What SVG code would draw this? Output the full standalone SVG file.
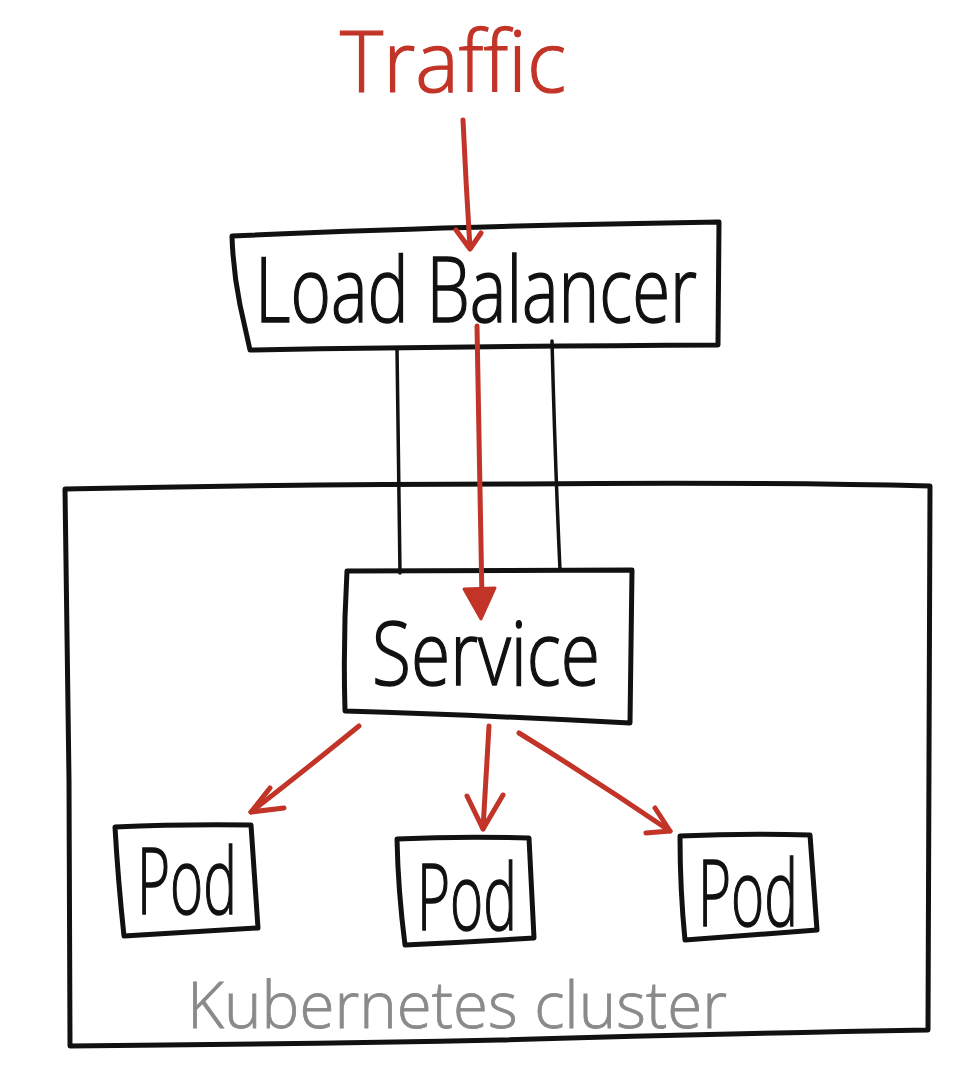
<svg xmlns="http://www.w3.org/2000/svg" width="972" height="1066" viewBox="0 0 972 1066">
  <defs>
    <style>
      .ink { fill: none; stroke: #111; stroke-width: 5; stroke-linecap: round; stroke-linejoin: round; }
      .thin { fill: none; stroke: #111; stroke-width: 3.5; stroke-linecap: round; }
      .red { fill: none; stroke: #c23427; stroke-width: 5; stroke-linecap: round; stroke-linejoin: round; }
      .redfill { fill: #c23427; stroke: #c23427; stroke-width: 3; stroke-linejoin: round; }
      .label { font-family: "Open Sans", "Liberation Sans", sans-serif; font-weight: 300; fill: #111; stroke: #111; stroke-width: 1.5; }
      .red-label { font-family: "Open Sans", "Liberation Sans", sans-serif; font-weight: 300; fill: #c23427; stroke: #c23427; stroke-width: 1.2; }
      .grey-label { font-family: "Open Sans", "Liberation Sans", sans-serif; font-weight: 300; fill: #8a8a8a; stroke: #8a8a8a; stroke-width: 0.8; }
    </style>
  </defs>
  <rect width="972" height="1066" fill="#fff"/>

  <!-- cluster outline -->
  <g id="cluster">
    <path class="ink" d="M65,489 Q300,484 520,484 Q760,482 930,486 L929,760 L928,1030 Q700,1034 500,1040 Q300,1044 70,1046 L69,780 Z"/>
    <text class="grey-label" x="187" y="1028" font-size="64" textLength="540" lengthAdjust="spacingAndGlyphs">Kubernetes cluster</text>
  </g>

  <!-- traffic label -->
  <g id="traffic">
    <text class="red-label" x="340" y="92" font-size="84" textLength="226" lengthAdjust="spacingAndGlyphs">Traffic</text>
  </g>

  <!-- load balancer -->
  <g id="load-balancer">
    <path class="ink" d="M232,236 Q450,226 719,222 L718,345 Q500,346 250,350 L240,305 Q233,270 232,236 Z"/>
    <text class="label" x="255" y="322" font-size="90" textLength="442" lengthAdjust="spacingAndGlyphs">Load Balancer</text>
  </g>

  <!-- service -->
  <g id="service">
    <path class="ink" d="M347,571 L632,570 L630,723 Q480,715 345,711 Q343,640 347,571 Z"/>
    <text class="label" x="372" y="685" font-size="88" textLength="228" lengthAdjust="spacingAndGlyphs">Service</text>
  </g>

  <!-- pods -->
  <g id="pod-1">
    <path class="ink" d="M115,827 Q180,824 251,825 L258,928 Q190,932 124,936 Q118,880 115,827 Z"/>
    <text class="label" x="137" y="914" font-size="92" textLength="100" lengthAdjust="spacingAndGlyphs">Pod</text>
  </g>
  <g id="pod-2">
    <path class="ink" d="M397,839 Q460,836 529,838 L534,938 Q470,942 405,945 Q398,890 397,839 Z"/>
    <text class="label" x="417" y="930" font-size="92" textLength="100" lengthAdjust="spacingAndGlyphs">Pod</text>
  </g>
  <g id="pod-3">
    <path class="ink" d="M680,836 Q745,833 810,835 L817,930 Q750,935 685,940 Q680,890 680,836 Z"/>
    <text class="label" x="698" y="926" font-size="92" textLength="100" lengthAdjust="spacingAndGlyphs">Pod</text>
  </g>

  <!-- connectors -->
  <g id="connectors">
    <!-- balancer to service links -->
    <path class="thin" d="M397,348 Q398,460 400,573"/>
    <path class="thin" d="M552,341 Q555,460 560,570"/>
    <!-- incoming traffic -->
    <path class="red" d="M463,120 Q466,185 470,248"/>
    <path class="red" d="M456,230 L470,249 L481,233"/>
    <!-- through the balancer to the service -->
    <path class="red" d="M477,326 Q480,470 482,600"/>
    <path class="redfill" d="M464,589 L495,588 L481,619 Z"/>
    <!-- service to pods -->
    <path class="red" d="M359,726 Q305,770 251,812"/>
    <path class="red" d="M270,788 L251,812 L284,808"/>
    <path class="red" d="M489,726 Q486,780 483,829"/>
    <path class="red" d="M467,796 L483,829 L503,795"/>
    <path class="red" d="M519,733 Q595,780 670,831"/>
    <path class="red" d="M655,808 L670,831 L646,833"/>
  </g>
</svg>
